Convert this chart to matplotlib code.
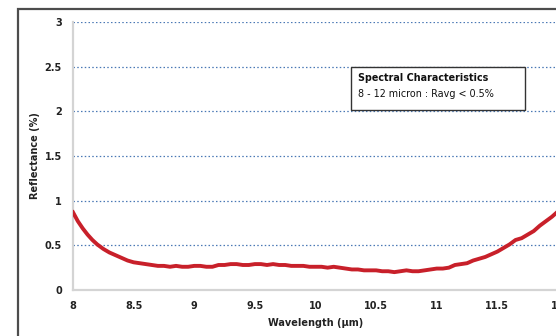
import numpy as np
import matplotlib
matplotlib.use("Agg")
import matplotlib.pyplot as plt
from matplotlib.patches import Rectangle

wavelength = [8.00, 8.04, 8.08, 8.12, 8.16, 8.20, 8.25, 8.30, 8.35, 8.40, 8.45, 8.50,
              8.55, 8.60, 8.65, 8.70, 8.75, 8.80, 8.85, 8.90, 8.95, 9.00, 9.05, 9.10,
              9.15, 9.20, 9.25, 9.30, 9.35, 9.40, 9.45, 9.50, 9.55, 9.60, 9.65, 9.70,
              9.75, 9.80, 9.85, 9.90, 9.95, 10.00, 10.05, 10.10, 10.15, 10.20, 10.25,
              10.30, 10.35, 10.40, 10.45, 10.50, 10.55, 10.60, 10.65, 10.70, 10.75,
              10.80, 10.85, 10.90, 10.95, 11.00, 11.05, 11.10, 11.15, 11.20, 11.25,
              11.30, 11.35, 11.40, 11.45, 11.50, 11.55, 11.60, 11.65, 11.70, 11.75,
              11.80, 11.85, 11.90, 11.95, 12.00]
reflectance = [0.87, 0.77, 0.69, 0.62, 0.56, 0.51, 0.46, 0.42, 0.39, 0.36, 0.33, 0.31,
               0.30, 0.29, 0.28, 0.27, 0.27, 0.26, 0.27, 0.26, 0.26, 0.27, 0.27, 0.26,
               0.26, 0.28, 0.28, 0.29, 0.29, 0.28, 0.28, 0.29, 0.29, 0.28, 0.29, 0.28,
               0.28, 0.27, 0.27, 0.27, 0.26, 0.26, 0.26, 0.25, 0.26, 0.25, 0.24,
               0.23, 0.23, 0.22, 0.22, 0.22, 0.21, 0.21, 0.20, 0.21, 0.22,
               0.21, 0.21, 0.22, 0.23, 0.24, 0.24, 0.25, 0.28, 0.29, 0.30,
               0.33, 0.35, 0.37, 0.40, 0.43, 0.47, 0.51, 0.56, 0.58, 0.62,
               0.66, 0.72, 0.77, 0.82, 0.88]
xticks = [8, 8.5, 9, 9.5, 10, 10.5, 11, 11.5, 12]
xticklabels = ["8", "8.5", "9", "9.5", "10", "10.5", "11", "11.5", "12"]
yticks = [0, 0.5, 1, 1.5, 2, 2.5, 3]
yticklabels = ["0", "0.5", "1", "1.5", "2", "2.5", "3"]

plt.rcParams['font.family'] = ['DejaVu Sans']

W, H = 556, 336
fig = plt.figure(figsize=(W / 100, H / 100), dpi=100)
ax = fig.add_axes([73 / W, 46 / H, 485 / W, 268 / H])

# outer chart frame (extends past right/bottom edge)
fig.patches.append(Rectangle((18 / W, -0.05), 1.0, (336 - 9) / H + 0.05,
                             transform=fig.transFigure, fill=False,
                             edgecolor='#4d4d4d', linewidth=1.6))

ax.plot(wavelength, reflectance, color='#c8202a', linewidth=2.8, zorder=3)

ax.set_xlim(8, 12)
ax.set_ylim(0, 3)
ax.set_xticks(xticks)
ax.set_xticklabels(xticklabels)
ax.set_yticks(yticks)
ax.set_yticklabels(yticklabels)
ax.tick_params(length=0, labelsize=7, pad=8)
for lbl in ax.get_xticklabels() + ax.get_yticklabels():
    lbl.set_fontweight('bold')
    lbl.set_color('#222222')

for gy in yticks[1:]:
    ax.axhline(gy, color='#4a78b5', linestyle=(0, (1.2, 1.8)), linewidth=0.9, zorder=1)

for side in ['top', 'right']:
    ax.spines[side].set_visible(False)
for side in ['left', 'bottom']:
    ax.spines[side].set_color('#d4d4d4')
    ax.spines[side].set_linewidth(1.6)

ax.set_xlabel("Wavelength (µm)", fontsize=7, fontweight='bold', color='#222222', labelpad=5)
ax.set_ylabel("Reflectance (%)", fontsize=7, fontweight='bold', color='#222222', labelpad=3)

# annotation box
ax.add_patch(Rectangle((10.29, 2.01), 1.44, 0.49, facecolor='white',
                       edgecolor='#333333', linewidth=1.0, zorder=4))
ax.text(10.35, 2.37, "Spectral Characteristics", fontsize=6.9, fontweight='bold',
        color='#111111', va='center', zorder=5)
ax.text(10.35, 2.19, "8 - 12 micron : Ravg < 0.5%", fontsize=6.9,
        color='#111111', va='center', zorder=5)

fig.savefig("out.png", dpi=100)
